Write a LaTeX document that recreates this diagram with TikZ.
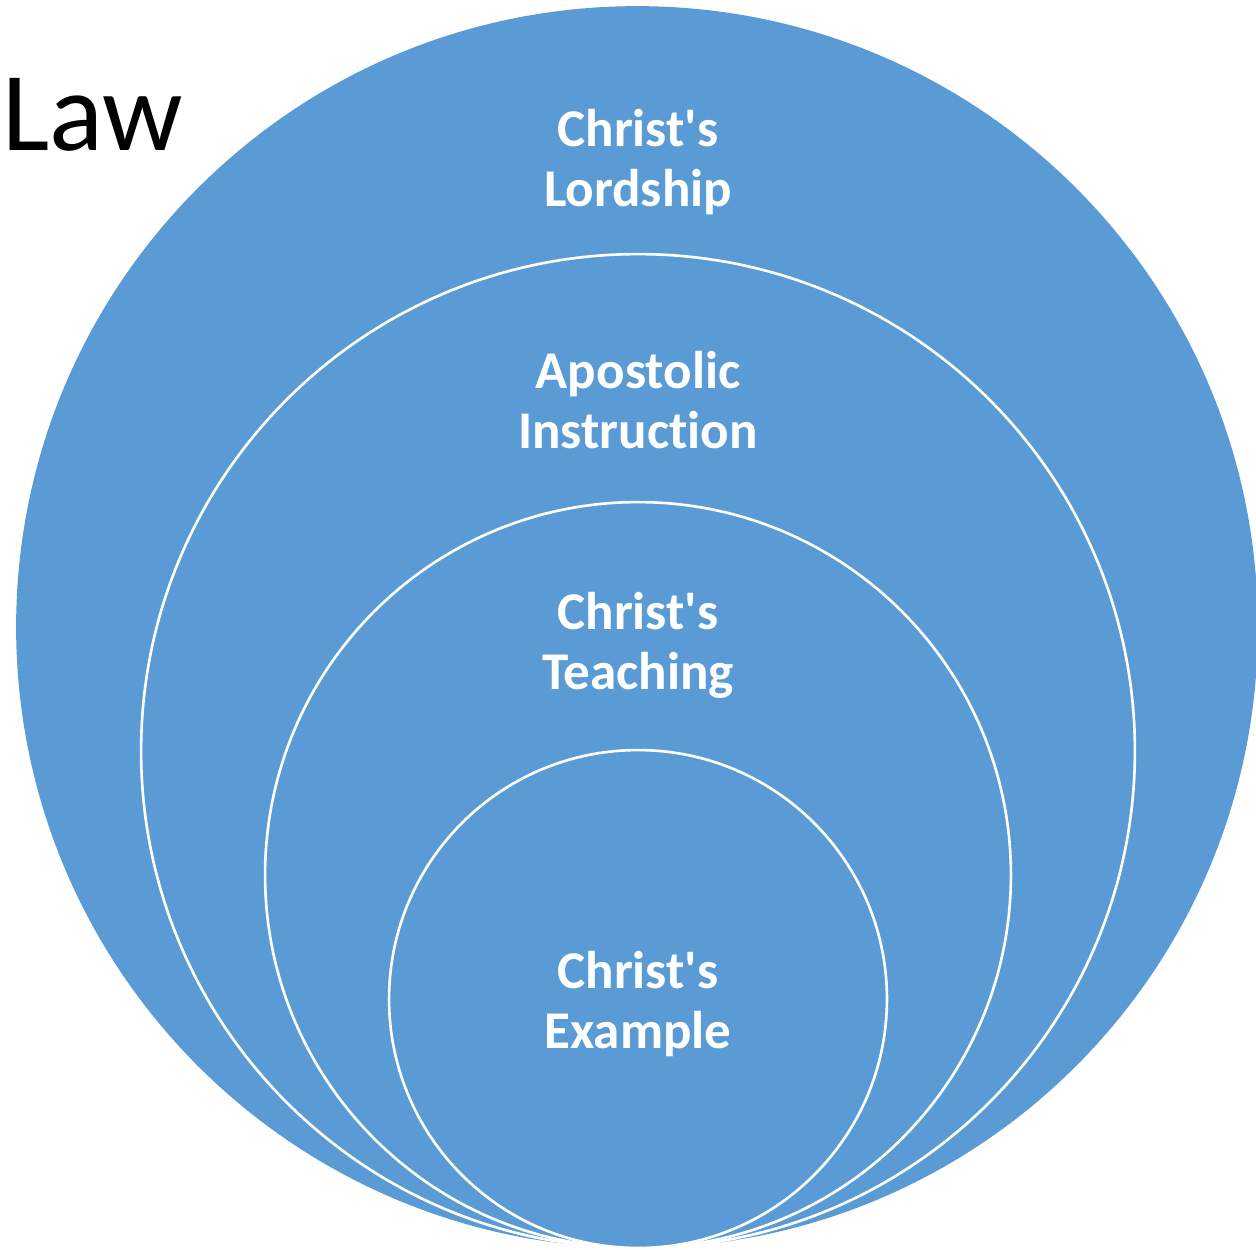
\documentclass[tikz,border=0pt]{standalone}
\usepackage{fontspec}
\setmainfont{Carlito}[Ligatures={TeX,NoCommon}]
\usetikzlibrary{positioning}
\definecolor{ringblue}{HTML}{5B9BD5}

\begin{document}
\begin{tikzpicture}[x=0.02cm, y=-0.02cm, ring/.style = {circle, fill=ringblue, draw=white, line width=1.5pt, inner sep=0pt}, tag/.style = {text=white, font=\bfseries\fontsize{30.2}{33.6}\selectfont, align=center, inner sep=0pt, anchor=base}]

\useasboundingbox (0,0) rectangle (1256,1249);

% rings, biggest first, all touching at the bottom
\node[ring, draw=none, minimum size=24.84cm] (lordship) at (637,627) {};
\node[ring, minimum size=19.88cm] (apostolic) at (638,751) {};
\node[ring, minimum size=14.92cm] (teaching) at (638,875) {};
\node[ring, minimum size=9.96cm] (example) at (638,999) {};

% labels sit on the baseline of their last line
\node[tag] (lordshiptext) at (638,206) {Christ\textquotesingle s\\Lordship};
\node[tag] (apostolictext) at (638,448) {Apostolic\\Instruction};
\node[tag] (teachingtext) at (638,689) {Christ\textquotesingle s\\Teaching};
\node[tag] (exampletext) at (638,1048) {Christ\textquotesingle s\\Example};

\node[font=\fontsize{64}{76}\selectfont, anchor=base west, inner sep=0pt] (law) at (2,150) {Law};
\end{tikzpicture}
\end{document}
